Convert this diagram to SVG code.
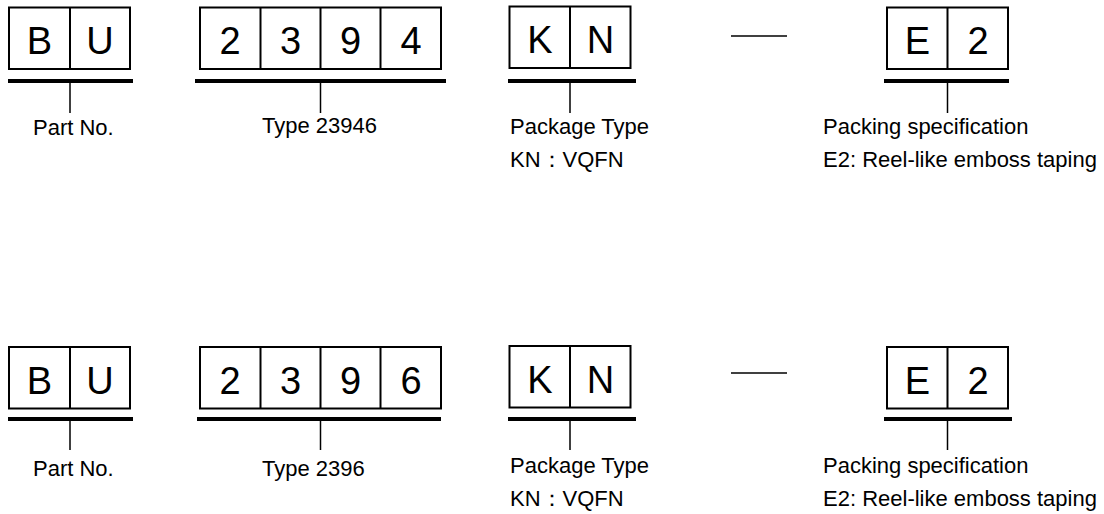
<svg xmlns="http://www.w3.org/2000/svg" width="1104" height="514" viewBox="0 0 1104 514">
<style>
.box{fill:#fff;stroke:#000;stroke-width:2}
.div{stroke:#000;stroke-width:2}
.bar{stroke:#000;stroke-width:4}
.tick{stroke:#000;stroke-width:1.5}
.dash{stroke:#000;stroke-width:1.5}
.ch{font-family:"Liberation Sans",Arial,sans-serif;font-size:38px;fill:#000;text-anchor:middle}
.lbl{font-family:"Liberation Sans",Arial,sans-serif;font-size:22px;fill:#000}
</style>
<rect width="1104" height="514" fill="#fff"/>
<!-- Row 1 -->
<g id="r1-bu">
<rect class="box" x="9" y="7.5" width="121" height="61.5"/>
<line class="div" x1="70" y1="7.5" x2="70" y2="69"/>
<text class="ch" x="39.5" y="54">B</text>
<text class="ch" x="100" y="54">U</text>
<text class="lbl" x="33" y="135">Part No.</text>
</g>
<g id="r1-type">
<rect class="box" x="200" y="7.5" width="241" height="61.5"/>
<line class="div" x1="260.5" y1="7.5" x2="260.5" y2="69"/>
<line class="div" x1="320.5" y1="7.5" x2="320.5" y2="69"/>
<line class="div" x1="380.5" y1="7.5" x2="380.5" y2="69"/>
<text class="ch" x="230" y="54">2</text>
<text class="ch" x="290.5" y="54">3</text>
<text class="ch" x="350.5" y="54">9</text>
<text class="ch" x="411" y="54">4</text>
<text class="lbl" x="262" y="133">Type 23946</text>
</g>
<g id="r1-kn">
<rect class="box" x="509.5" y="6.5" width="121" height="61.5"/>
<line class="div" x1="570" y1="6.5" x2="570" y2="68"/>
<text class="ch" x="540" y="53">K</text>
<text class="ch" x="600.5" y="53">N</text>
<text class="lbl" x="510" y="134">Package Type</text>
<text class="lbl" x="510" y="167">KN：VQFN</text>
</g>
<g id="r1-e2">
<rect class="box" x="887" y="7.5" width="121" height="61.5"/>
<line class="div" x1="947.5" y1="7.5" x2="947.5" y2="69"/>
<text class="ch" x="917.5" y="54">E</text>
<text class="ch" x="978" y="54">2</text>
<text class="lbl" x="823" y="134">Packing specification</text>
<text class="lbl" x="823" y="167">E2: Reel-like emboss taping</text>
</g>
<!-- Row 2 -->
<g id="r2-bu">
<rect class="box" x="9" y="347" width="121" height="61.5"/>
<line class="div" x1="70" y1="347" x2="70" y2="408.5"/>
<text class="ch" x="39.5" y="394">B</text>
<text class="ch" x="100" y="394">U</text>
<text class="lbl" x="33" y="476">Part No.</text>
</g>
<g id="r2-type">
<rect class="box" x="200" y="347" width="241" height="61.5"/>
<line class="div" x1="260.5" y1="347" x2="260.5" y2="408.5"/>
<line class="div" x1="320.5" y1="347" x2="320.5" y2="408.5"/>
<line class="div" x1="380.5" y1="347" x2="380.5" y2="408.5"/>
<text class="ch" x="230" y="394">2</text>
<text class="ch" x="290.5" y="394">3</text>
<text class="ch" x="350.5" y="394">9</text>
<text class="ch" x="411" y="394">6</text>
<text class="lbl" x="262" y="476">Type 2396</text>
</g>
<g id="r2-kn">
<rect class="box" x="509.5" y="346" width="121" height="61.5"/>
<line class="div" x1="570" y1="346" x2="570" y2="407.5"/>
<text class="ch" x="540" y="393">K</text>
<text class="ch" x="600.5" y="393">N</text>
<text class="lbl" x="510" y="473">Package Type</text>
<text class="lbl" x="510" y="506">KN：VQFN</text>
</g>
<g id="r2-e2">
<rect class="box" x="887" y="347" width="121" height="61.5"/>
<line class="div" x1="947.5" y1="347" x2="947.5" y2="408.5"/>
<text class="ch" x="917.5" y="394">E</text>
<text class="ch" x="978" y="394">2</text>
<text class="lbl" x="823" y="473">Packing specification</text>
<text class="lbl" x="823" y="506">E2: Reel-like emboss taping</text>
</g>
<g id="connectors">
<line class="bar" x1="8" y1="81" x2="133" y2="81"/>
<line class="bar" x1="195" y1="81" x2="446" y2="81"/>
<line class="bar" x1="508" y1="81" x2="636" y2="81"/>
<line class="bar" x1="884" y1="81" x2="1009" y2="81"/>
<line class="tick" x1="70" y1="83" x2="70" y2="113"/>
<line class="tick" x1="320.5" y1="83" x2="320.5" y2="113"/>
<line class="tick" x1="570" y1="83" x2="570" y2="113"/>
<line class="tick" x1="947.5" y1="83" x2="947.5" y2="113"/>
<line class="dash" x1="731" y1="36" x2="787" y2="36"/>
<line class="bar" x1="8" y1="419" x2="133" y2="419"/>
<line class="bar" x1="197" y1="419" x2="441" y2="419"/>
<line class="bar" x1="508" y1="419" x2="636" y2="419"/>
<line class="bar" x1="884" y1="419" x2="1012" y2="419"/>
<line class="tick" x1="70" y1="421" x2="70" y2="450"/>
<line class="tick" x1="320.5" y1="421" x2="320.5" y2="450"/>
<line class="tick" x1="570" y1="421" x2="570" y2="450"/>
<line class="tick" x1="947.5" y1="421" x2="947.5" y2="450"/>
<line class="dash" x1="731" y1="373" x2="787" y2="373"/>
</g>
</svg>
